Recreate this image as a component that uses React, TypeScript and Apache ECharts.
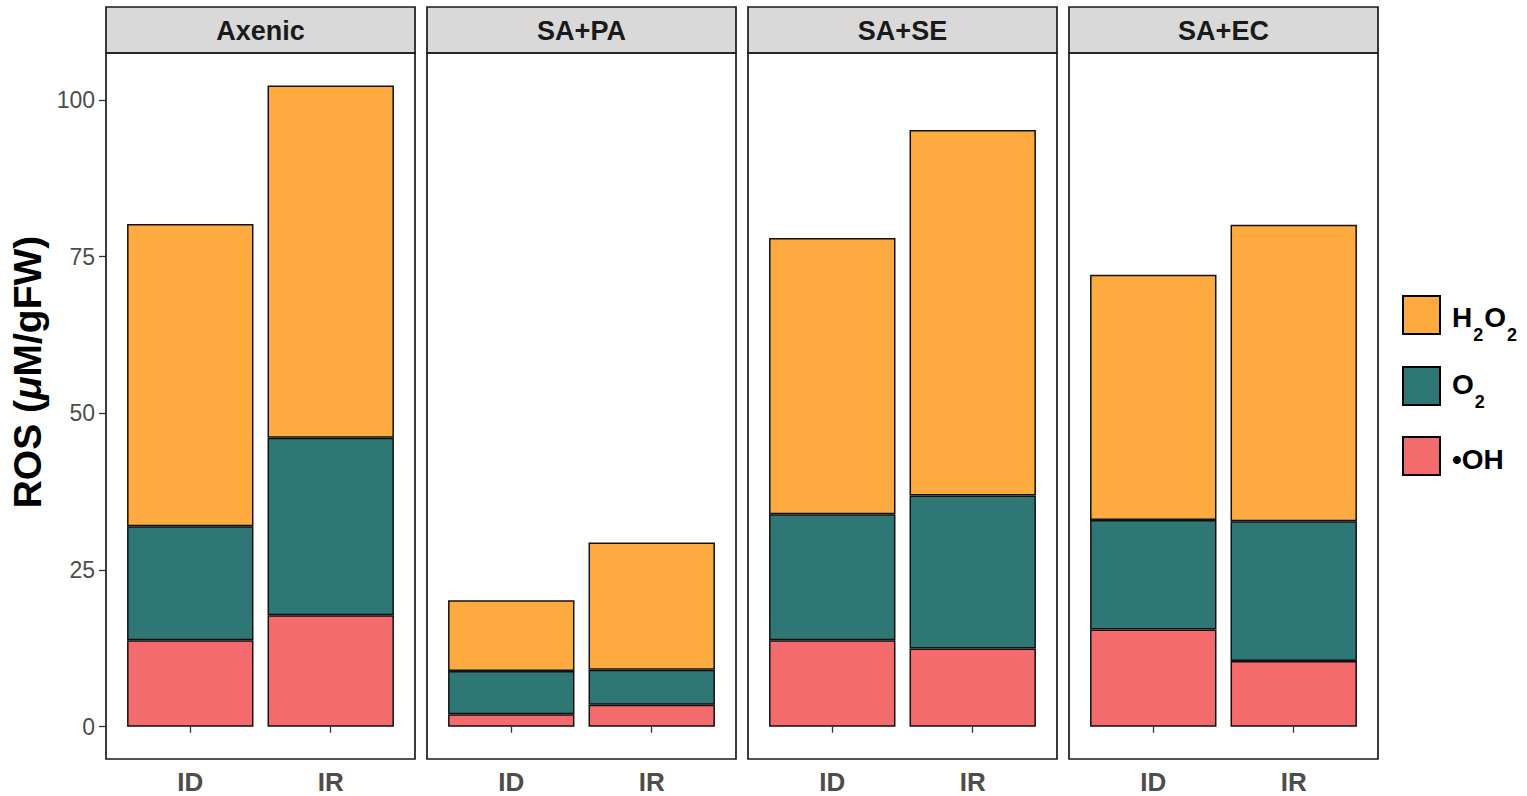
import React, { useEffect, useRef } from "react";
import * as echarts from "echarts";

const facets = ["Axenic", "SA+PA", "SA+SE", "SA+EC"];
const categories = ["ID", "IR"];
// per facet: [ID, IR]
const ohValues = [
  [13.8, 17.8],
  [2.0, 3.5],
  [13.8, 12.5],
  [15.5, 10.5],
];
const o2Values = [
  [18.2, 28.3],
  [6.9, 5.6],
  [20.1, 24.4],
  [17.5, 22.3],
];
const h2o2Values = [
  [48.2, 56.2],
  [11.3, 20.3],
  [44.1, 58.3],
  [39.1, 47.3],
];
const yTicks = [0, 25, 50, 75, 100];

const COLORS = { h2o2: "#FDAB41", o2: "#2E7775", oh: "#F36B6D" };
const FONT = '"Liberation Sans", Arial, sans-serif';

function measure(text: string, font: string): number {
  const c = document.createElement("canvas").getContext("2d");
  if (!c) return text.length * 10;
  c.font = font;
  return c.measureText(text).width;
}

export default function App() {
  const ref = useRef<HTMLDivElement>(null);
  useEffect(() => {
    document.body.style.margin = "0";
    if (!ref.current) return;
    const chart = echarts.init(ref.current, undefined, { renderer: "svg" });

    const panelW = 309;
    const panelTop = 53;
    const panelH = 706;
    const stripTop = 7;
    const step = 321;
    const firstLeft = 106;
    const unit = panelW / 2.2;
    const yMin = -5.15;
    const yMax = 107.5;

    const grids: any[] = [];
    const xAxes: any[] = [];
    const yAxes: any[] = [];
    const series: any[] = [];
    const graphics: any[] = [];

    facets.forEach((f, i) => {
      const L = firstLeft + step * i;
      grids.push({
        left: L + 0.1 * unit,
        top: panelTop,
        width: 2 * unit,
        height: panelH,
        containLabel: false,
      });
      xAxes.push({
        type: "category",
        gridIndex: i,
        data: categories,
        boundaryGap: true,
        axisLine: { show: false },
        axisTick: {
          show: true,
          alignWithLabel: true,
          length: 6,
          lineStyle: { color: "#333333", width: 1.3 },
        },
        axisLabel: {
          color: "#4D4D4D",
          fontSize: 26,
          fontWeight: "bold",
          fontFamily: FONT,
          margin: 10,
        },
        splitLine: { show: false },
      });
      yAxes.push({
        type: "value",
        gridIndex: i,
        min: yMin,
        max: yMax,
        show: i === 0,
        offset: 0.1 * unit,
        axisLine: { show: false },
        axisTick: {
          show: true,
          length: 7,
          customValues: yTicks,
          lineStyle: { color: "#333333", width: 1.3 },
        },
        axisLabel: {
          customValues: yTicks,
          color: "#4D4D4D",
          fontSize: 23,
          fontFamily: FONT,
          margin: 11,
        },
        splitLine: { show: false },
      });
      const common = {
        type: "bar",
        xAxisIndex: i,
        yAxisIndex: i,
        stack: "s" + i,
        barWidth: "90%",
      };
      series.push({
        ...common,
        name: "•OH",
        data: ohValues[i],
        itemStyle: { color: COLORS.oh, borderColor: "#111", borderWidth: 1.5 },
      });
      series.push({
        ...common,
        name: "O2",
        data: o2Values[i],
        itemStyle: { color: COLORS.o2, borderColor: "#111", borderWidth: 1.5 },
      });
      series.push({
        ...common,
        name: "H2O2",
        data: h2o2Values[i],
        itemStyle: { color: COLORS.h2o2, borderColor: "#111", borderWidth: 1.5 },
      });

      graphics.push({
        type: "rect",
        shape: { x: L, y: stripTop, width: panelW, height: panelTop - stripTop },
        style: { fill: "#D9D9D9", stroke: "#1A1A1A", lineWidth: 1.7 },
        z: 10,
      });
      graphics.push({
        type: "rect",
        shape: { x: L, y: panelTop, width: panelW, height: panelH },
        style: { fill: "none", stroke: "#1A1A1A", lineWidth: 1.7 },
        z: 10,
      });
      graphics.push({
        type: "text",
        x: L + panelW / 2,
        y: (stripTop + panelTop) / 2 + 1,
        style: {
          text: f,
          font: `bold 27px ${FONT}`,
          fill: "#1A1A1A",
          align: "center",
          verticalAlign: "middle",
        },
        z: 11,
      });
    });

    // y axis title
    graphics.push({
      type: "text",
      x: 27,
      y: 372,
      rotation: Math.PI / 2,
      style: {
        text: "{a|ROS (}{b|μ}{a|M/gFW)}",
        align: "center",
        verticalAlign: "middle",
        rich: {
          a: { fontSize: 39, fontWeight: "bold", fontFamily: FONT, fill: "#000", color: "#000" },
          b: {
            fontSize: 39,
            fontWeight: "bold",
            fontStyle: "italic",
            fontFamily: FONT,
            fill: "#000",
            color: "#000",
          },
        },
      },
      z: 11,
    });

    // legend
    const legendItems = [
      { color: COLORS.h2o2, parts: [["H", 0], ["2", 1], ["O", 0], ["2", 1]], top: 296, mainC: 317.5, subC: 335 },
      { color: COLORS.o2, parts: [["O", 0], ["2", 1]], top: 367, mainC: 384, subC: 402 },
      { color: COLORS.oh, parts: [["•OH", 0]], top: 437, mainC: 459, subC: 476 },
    ];
    const mainFont = `bold 28px ${FONT}`;
    const subFont = `bold 18px ${FONT}`;
    legendItems.forEach((it) => {
      graphics.push({
        type: "rect",
        shape: { x: 1403, y: it.top, width: 37, height: 38 },
        style: { fill: it.color, stroke: "#000", lineWidth: 2 },
        z: 11,
      });
      let x = 1452;
      it.parts.forEach(([t, sub]) => {
        const font = sub ? subFont : mainFont;
        graphics.push({
          type: "text",
          x,
          y: sub ? it.subC : it.mainC,
          style: {
            text: t as string,
            font,
            fill: "#000",
            align: "left",
            verticalAlign: "middle",
          },
          z: 11,
        });
        x += measure(t as string, font) + 1;
      });
    });

    chart.setOption({
      animation: false,
      backgroundColor: "#FFFFFF",
      grid: grids,
      xAxis: xAxes,
      yAxis: yAxes,
      series,
      graphic: graphics,
    });
    return () => chart.dispose();
  }, []);
  return <div ref={ref} style={{ width: 1527, height: 796 }} />;
}
